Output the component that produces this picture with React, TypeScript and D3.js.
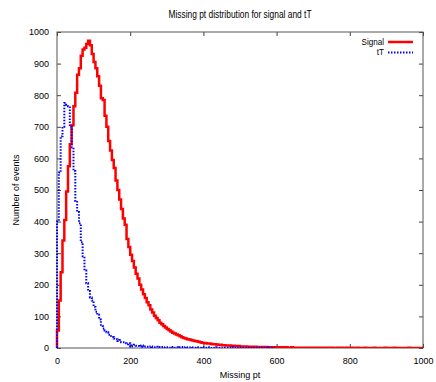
import React, { useEffect, useRef } from "react";
import { axisBottom, axisLeft, axisRight, axisTop, curveStepAfter, line, scaleLinear, select } from "d3";

// histogram bins, 5 units wide, starting at 0
const binWidth = 5;

const signalCounts = [
  55, 150, 240, 340, 405, 495, 575, 645, 705, 765, 808, 865, 885, 925, 945, 950, 962, 972, 958, 930,
  905, 885, 860, 830, 790, 785, 735, 700, 655, 625, 595, 570, 530, 500, 470, 440, 410, 390, 345, 320,
  295, 275, 255, 235, 220, 200, 185, 170, 158, 145, 135, 122, 112, 102, 95, 88, 80, 75, 70, 65,
  60, 56, 52, 48, 46, 43, 40, 37, 34, 32, 30, 28, 27, 25, 24, 22, 21, 20, 18, 17,
  16, 15, 14, 14, 13, 12, 12, 11, 10, 10, 9, 9, 8, 8, 8, 7, 7, 6, 6, 6,
  5, 5, 5, 5, 4, 4, 4, 4, 4, 3, 3, 3, 3, 3, 3, 2, 2, 2, 2, 2,
  2, 2, 1, 2, 1, 2, 1, 1, 2, 1, 1, 1, 1, 1, 1, 1, 0, 1, 1, 1,
  1, 1, 0, 1, 1, 0, 1, 0, 1, 0, 1, 0, 0, 1, 0, 1, 0, 0, 1, 0,
  0, 1, 0, 0, 1, 0, 0, 0, 1, 0, 0, 0, 0, 1, 0, 0, 0, 0, 0, 1,
  0, 0, 0, 0, 1, 0, 0, 0, 0, 0, 0, 0, 1, 0, 0, 0, 0, 0, 0, 0,
];

const ttCounts = [
  400, 555, 670, 700, 775, 770, 765, 700, 635, 560, 465, 430, 395, 335, 290, 245, 205, 180, 160, 150,
  130, 115, 105, 90, 70, 62, 55, 50, 42, 38, 35, 30, 28, 22, 25, 18, 18, 15, 12, 15,
  5, 8, 10, 7, 6, 5, 8, 4, 5, 4, 3, 5, 3, 2, 4, 3, 2, 3, 1, 2,
  2, 1, 3, 2, 1, 2, 1, 2, 3, 1, 2, 1, 1, 2, 1, 1, 2, 1, 1, 2,
  1, 1, 2, 1, 0, 1, 1, 2, 1, 1, 0, 1, 1, 1, 0, 1, 2, 1, 0, 1,
  1, 0, 1, 1, 0, 1, 0, 1, 1, 0, 1, 0, 1, 0, 1, 0, 1, 0, 1,
];

const xTicks = [0, 200, 400, 600, 800, 1000];
const yTicks = [0, 100, 200, 300, 400, 500, 600, 700, 800, 900, 1000];

const series = [
  { name: "Signal", counts: signalCounts, color: "#ff0000", width: 2.5, dash: null },
  { name: "tT", counts: ttCounts, color: "#0000ff", width: 2, dash: "1.5,1.5" },
];

const FONT = "'Liberation Sans', Arial, sans-serif";

const App = () => {
  const svgRef = useRef<SVGSVGElement>(null);
  const width = 436;
  const height = 382;
  const margin = { top: 32, right: 13, bottom: 34, left: 57 };

  useEffect(() => {
    const svg = select(svgRef.current);
    svg.selectAll("*").remove();

    const x = scaleLinear().domain([0, 1000]).range([margin.left, width - margin.right]);
    const y = scaleLinear().domain([0, 1000]).range([height - margin.bottom, margin.top]);

    svg.append("rect").attr("width", width).attr("height", height).attr("fill", "#fff");

    // title is set in a narrow face in the original, squeeze it a bit
    svg
      .append("text")
      .attr("transform", `translate(${(x(0) + x(1000)) / 2},18) scale(0.84,1)`)
      .attr("text-anchor", "middle")
      .style("font", `10px ${FONT}`)
      .text("Missing pt distribution for signal and tT");

    // axes: gnuplot style, ticks inward and mirrored
    const styleAxis = (g) => {
      g.select(".domain").remove();
      g.selectAll(".tick line").attr("stroke", "#444");
      g.selectAll("text").style("font", `9px ${FONT}`).attr("fill", "#000");
    };

    svg
      .append("g")
      .attr("transform", `translate(0,${y(0)})`)
      .call(axisBottom(x).tickValues(xTicks).tickSize(-4).tickPadding(10).tickFormat((d) => `${d}`))
      .call(styleAxis);
    svg
      .append("g")
      .attr("transform", `translate(0,${y(1000)})`)
      .call(axisTop(x).tickValues(xTicks).tickSize(-4).tickFormat(() => ""))
      .call(styleAxis);
    svg
      .append("g")
      .attr("transform", `translate(${x(0)},0)`)
      .call(axisLeft(y).tickValues(yTicks).tickSize(-4).tickPadding(8).tickFormat((d) => `${d}`))
      .call(styleAxis);
    svg
      .append("g")
      .attr("transform", `translate(${x(1000)},0)`)
      .call(axisRight(y).tickValues(yTicks).tickSize(-4).tickFormat(() => ""))
      .call(styleAxis);

    svg
      .append("rect")
      .attr("x", x(0))
      .attr("y", y(1000))
      .attr("width", x(1000) - x(0))
      .attr("height", y(0) - y(1000))
      .attr("fill", "none")
      .attr("stroke", "#555")
      .attr("stroke-width", 1);

    svg
      .append("defs")
      .append("clipPath")
      .attr("id", "plot-clip")
      .append("rect")
      .attr("x", x(0) - 2)
      .attr("y", y(1000) - 2)
      .attr("width", x(1000) - x(0) + 4)
      .attr("height", y(0) - y(1000) + 2);

    const steps = line()
      .x((d) => x(d[0]))
      .y((d) => y(d[1]))
      .curve(curveStepAfter);

    series.forEach((s) => {
      const pts = [[0, 0]];
      s.counts.forEach((c, i) => pts.push([i * binWidth, c]));
      pts.push([s.counts.length * binWidth, s.counts[s.counts.length - 1]]);
      svg
        .append("path")
        .attr("d", steps(pts))
        .attr("clip-path", "url(#plot-clip)")
        .attr("fill", "none")
        .attr("stroke", s.color)
        .attr("stroke-width", s.width)
        .attr("stroke-dasharray", s.dash);
    });

    // legend
    const legend = svg.append("g");
    series.forEach((s, i) => {
      const ly = 42 + i * 10.5;
      legend
        .append("text")
        .attr("transform", `translate(384,${ly}) scale(0.9,1)`)
        .attr("dy", "0.32em")
        .attr("text-anchor", "end")
        .style("font", `9px ${FONT}`)
        .text(s.name);
      legend
        .append("line")
        .attr("x1", 388)
        .attr("x2", 413)
        .attr("y1", ly)
        .attr("y2", ly)
        .attr("stroke", s.color)
        .attr("stroke-width", s.width)
        .attr("stroke-dasharray", s.dash);
    });

    svg
      .append("text")
      .attr("x", (x(0) + x(1000)) / 2)
      .attr("y", 378)
      .attr("text-anchor", "middle")
      .style("font", `9px ${FONT}`)
      .text("Missing pt");

    svg
      .append("text")
      .attr("transform", `translate(19,${(y(0) + y(1000)) / 2}) rotate(-90)`)
      .attr("text-anchor", "middle")
      .style("font", `9px ${FONT}`)
      .text("Number of events");
  }, []);

  return (
    <svg
      ref={svgRef}
      width={width}
      height={height}
      style={{ position: "absolute", left: 0, top: 0, display: "block" }}
    />
  );
};

export default App;
